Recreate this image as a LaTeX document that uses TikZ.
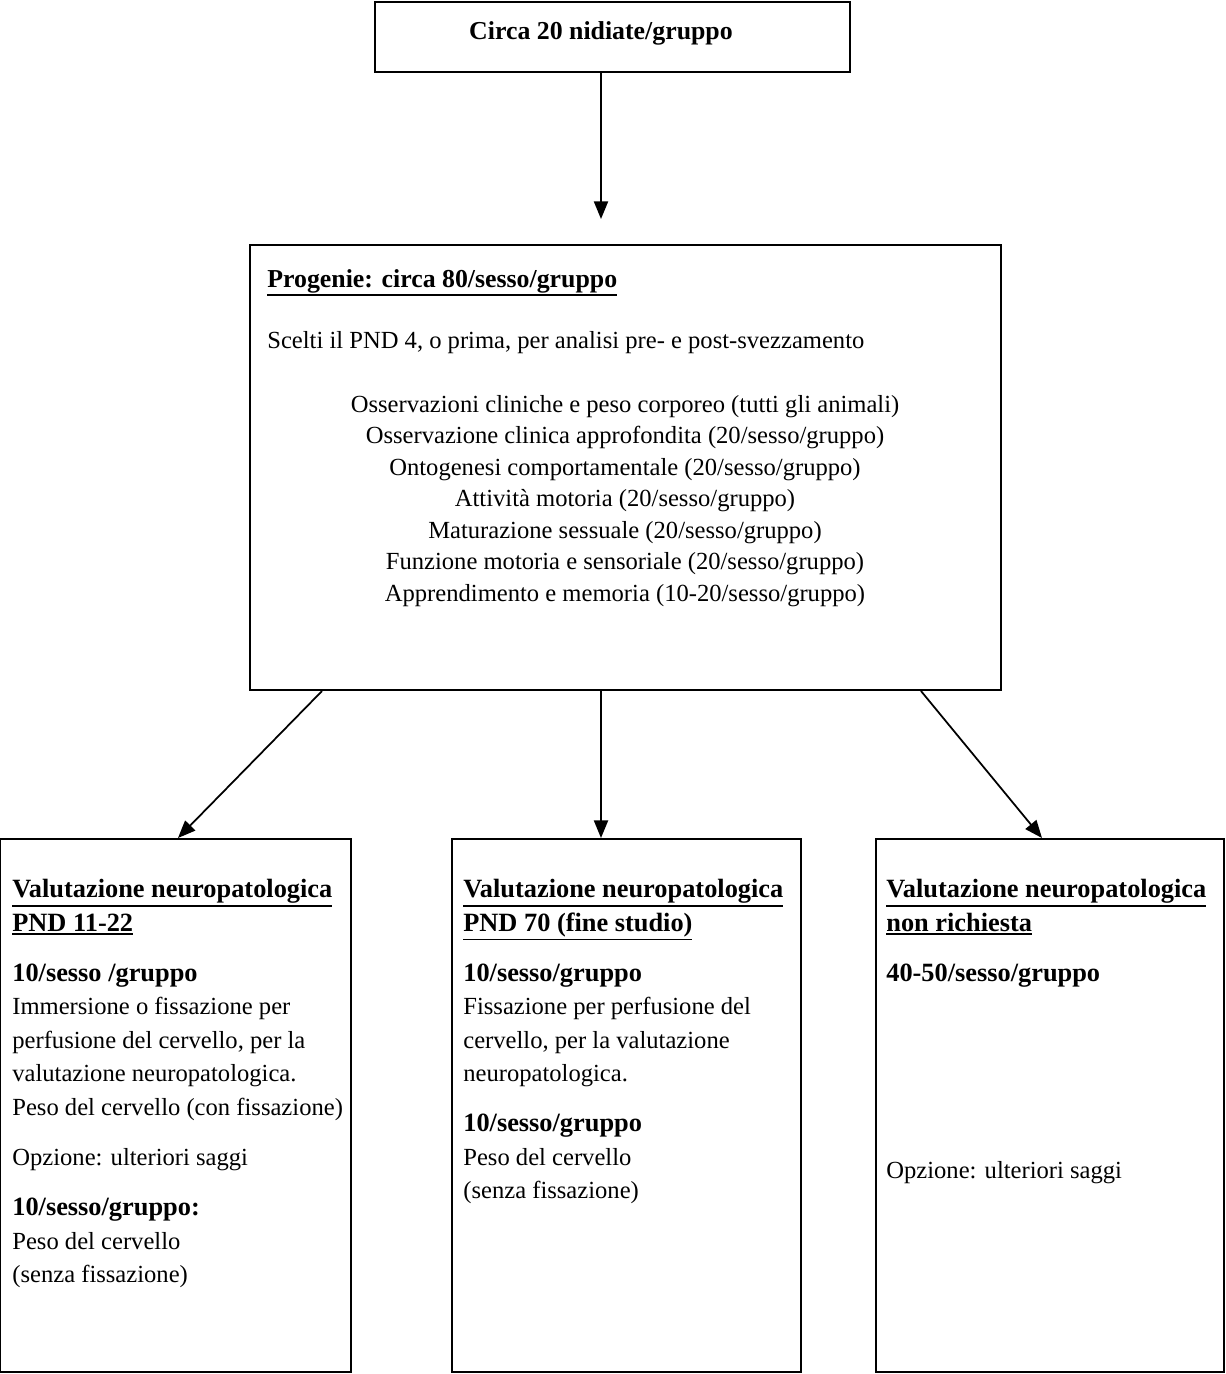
\documentclass[tikz,border=0pt]{standalone}
\usepackage{fontspec}
\setmainfont{Liberation Serif}
\usetikzlibrary{calc,positioning,arrows.meta}

\newcommand\ulthick[1]{\leavevmode\vtop{\hbox{#1}\kern1pt\hrule height 0.9pt}}

\begin{document}
\begin{tikzpicture}[x=0.02cm,y=-0.02cm,
    box/.style={draw,line width=1.2pt,inner sep=0pt},
    arr/.style={line width=1pt,-{Triangle[length=10pt,width=8pt]}},
    txt/.style={inner sep=0pt,align=left,font=\fontsize{14}{19.06}\selectfont},
    hd/.style={txt,font=\bfseries\fontsize{14.7}{19.06}\selectfont}]
    \useasboundingbox (0,0) rectangle (1226,1374);

    % boxes
    \node[box,minimum width=9.5cm,minimum height=1.4cm] (nidiate) at (612.5,37) {};
    \node[box,minimum width=15.02cm,minimum height=8.9cm] (progenie) at (625.5,467.5) {};
    \node[box,minimum width=7.02cm,minimum height=10.66cm] (pndA) at (175.5,1105.5) {};
    \node[box,minimum width=6.98cm,minimum height=10.66cm] (pndB) at (626.5,1105.5) {};
    \node[box,minimum width=6.96cm,minimum height=10.66cm] (nonreq) at (1050,1105.5) {};

    % title
    \node[hd,anchor=base] (nidtxt) at (601,39) {Circa 20 nidiate/gruppo};

    % texts of the middle box
    \node[hd,anchor=base west] (proghd) at (267,287) {\ulthick{Progenie: circa 80/sesso/gruppo}};
    \node[txt,anchor=base west] (scelti) at (267,348) {Scelti il PND 4, o prima, per analisi pre- e post-svezzamento};
    \node[txt,align=center,anchor=north,font=\fontsize{14}{17.9}\selectfont] (analisi) at (625,395) {%
        Osservazioni cliniche e peso corporeo (tutti gli animali)\\
        Osservazione clinica approfondita (20/sesso/gruppo)\\
        Ontogenesi comportamentale (20/sesso/gruppo)\\
        Attività motoria (20/sesso/gruppo)\\
        Maturazione sessuale (20/sesso/gruppo)\\
        Funzione motoria e sensoriale (20/sesso/gruppo)\\
        Apprendimento e memoria (10-20/sesso/gruppo)};

    % texts of the lower boxes
    \node[txt,anchor=north west] (pndAtxt) at (12,879) {%
        {\bfseries\fontsize{15}{19.06}\selectfont\ulthick{Valutazione neuropatologica}}\\
        {\bfseries\fontsize{15}{19.06}\selectfont\ulthick{PND 11-22}}\\[9.5pt]
        {\bfseries\fontsize{15}{19.06}\selectfont 10/sesso /gruppo}\\
        Immersione o fissazione per\\
        perfusione del cervello, per la\\
        valutazione neuropatologica.\\
        Peso del cervello (con fissazione)\\[9.5pt]
        Opzione: ulteriori saggi\\[9.5pt]
        {\bfseries\fontsize{15}{19.06}\selectfont 10/sesso/gruppo:}\\
        Peso del cervello\\
        (senza fissazione)};
    \node[txt,anchor=north west] (pndBtxt) at (463,879) {%
        {\bfseries\fontsize{15}{19.06}\selectfont\ulthick{Valutazione neuropatologica}}\\
        {\bfseries\fontsize{15}{19.06}\selectfont\ulthick{PND 70 (fine studio)}}\\[9.5pt]
        {\bfseries\fontsize{15}{19.06}\selectfont 10/sesso/gruppo}\\
        Fissazione per perfusione del\\
        cervello, per la valutazione\\
        neuropatologica.\\[9.5pt]
        {\bfseries\fontsize{15}{19.06}\selectfont 10/sesso/gruppo}\\
        Peso del cervello\\
        (senza fissazione)};
    \node[txt,anchor=north west] (nonreqtxt) at (886,879) {%
        {\bfseries\fontsize{15}{19.06}\selectfont\ulthick{Valutazione neuropatologica}}\\
        {\bfseries\fontsize{15}{19.06}\selectfont\ulthick{non richiesta}}\\[9.5pt]
        {\bfseries\fontsize{15}{19.06}\selectfont 40-50/sesso/gruppo}};
    \node[txt,anchor=base west] (opzione) at (886,1178) {Opzione: ulteriori saggi};

    % arrows
    \coordinate (axis) at (601,0);
    \coordinate (xl) at (322,0);
    \coordinate (xr) at (921,0);
    \coordinate (tl) at (178,0);
    \coordinate (tr) at (1042,0);
    \draw[arr] (nidiate.south -| axis) -- ($(progenie.north -| axis)+(0,-25)$);
    \draw[arr] (progenie.south -| xl) -- (pndA.north -| tl);
    \draw[arr] (progenie.south -| axis) -- (pndB.north -| axis);
    \draw[arr] (progenie.south -| xr) -- (nonreq.north -| tr);
\end{tikzpicture}
\end{document}
